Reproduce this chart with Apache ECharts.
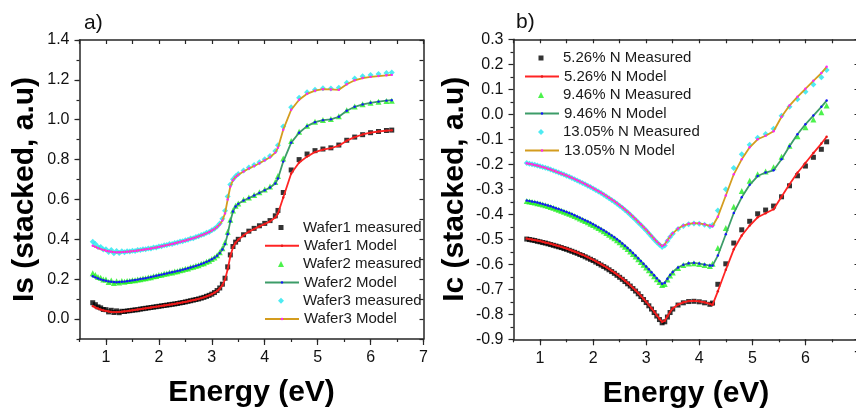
<!DOCTYPE html>
<html>
<head>
<meta charset="utf-8">
<script src="https://cdn.jsdelivr.net/npm/echarts@6/dist/echarts.min.js"></script>
<style>
  html, body { margin: 0; padding: 0; background: #fff; }
  #chart { width: 856px; height: 412px; }
</style>
</head>
<body>
<div id="chart"></div>
<script>
// Photon energy grid (eV) shared by all measured and model curves
const energy = [
  0.75, 0.80, 0.85, 0.90, 0.95, 1.00, 1.05, 1.10, 1.15, 1.20,
  1.25, 1.30, 1.35, 1.40, 1.45, 1.50, 1.55, 1.60, 1.65, 1.70,
  1.75, 1.80, 1.85, 1.90, 1.95, 2.00, 2.05, 2.10, 2.15, 2.20,
  2.25, 2.30, 2.35, 2.40, 2.45, 2.50, 2.55, 2.60, 2.65, 2.70,
  2.75, 2.80, 2.85, 2.90, 2.95, 3.00, 3.05, 3.10, 3.15, 3.20,
  3.25, 3.30, 3.35, 3.40, 3.45, 3.50, 3.60, 3.70, 3.80, 3.90,
  4.00, 4.10, 4.20, 4.25, 4.35, 4.50, 4.65, 4.80, 4.95, 5.10,
  5.25, 5.40, 5.55, 5.70, 5.85, 6.00, 6.15, 6.30, 6.40
];

// ---- Panel a) Is (stacked) ----
const wafer1Measured = [
  .082, .072, .061, .056, .048, .047, .036, .044, .033, .041,
  .032, .039, .038, .041, .042, .044, .046, .047, .050, .052,
  .054, .056, .058, .060, .062, .064, .066, .068, .070, .072,
  .074, .076, .078, .081, .083, .086, .089, .092, .095, .098,
  .101, .105, .109, .114, .119, .125, .133, .143, .156, .175,
  .205, .262, .322, .364, .386, .400, .423, .441, .455, .468,
  .480, .494, .518, .545, .635, .748, .800, .828, .845, .853,
  .859, .873, .897, .913, .925, .935, .941, .946, .948
];
const wafer1Model = [
  .065, .058, .053, .048, .044, .041, .038, .036, .035, .035,
  .036, .037, .039, .040, .042, .044, .046, .048, .050, .052,
  .054, .056, .058, .060, .062, .064, .066, .068, .070, .072,
  .074, .076, .079, .081, .084, .086, .089, .092, .095, .098,
  .101, .105, .109, .114, .119, .125, .132, .141, .153, .170,
  .198, .250, .315, .360, .383, .398, .420, .438, .452, .465,
  .477, .490, .510, .530, .610, .730, .785, .815, .838, .850,
  .857, .870, .895, .913, .926, .935, .941, .945, .947
];
const wafer2Measured = [
  .230, .221, .211, .207, .198, .199, .186, .194, .181, .190,
  .183, .191, .187, .191, .191, .195, .195, .199, .200, .204,
  .205, .209, .210, .215, .216, .221, .222, .227, .228, .233,
  .234, .239, .240, .245, .247, .252, .254, .260, .262, .268,
  .270, .277, .280, .288, .292, .301, .309, .320, .335, .355,
  .385, .438, .498, .545, .568, .580, .598, .610, .623, .636,
  .650, .665, .688, .718, .805, .893, .940, .970, .990, .999,
  1.004, 1.018, 1.047, 1.066, 1.078, 1.085, 1.090, 1.094, 1.095
];
const wafer2Model = [
  .215, .209, .204, .199, .195, .192, .189, .187, .186, .185,
  .186, .187, .188, .190, .192, .194, .196, .198, .201, .203,
  .205, .208, .211, .214, .217, .220, .223, .226, .229, .232,
  .235, .238, .241, .244, .248, .251, .255, .259, .263, .267,
  .271, .276, .281, .287, .293, .300, .308, .318, .331, .349,
  .376, .426, .490, .540, .565, .578, .595, .607, .620, .633,
  .646, .660, .680, .705, .790, .885, .935, .968, .988, .998,
  1.002, 1.015, 1.045, 1.065, 1.077, 1.085, 1.091, 1.096, 1.098
];
const wafer3Measured = [
  .388, .376, .362, .361, .349, .350, .336, .346, .330, .342,
  .331, .340, .335, .340, .339, .343, .342, .346, .346, .350,
  .350, .354, .354, .359, .359, .364, .365, .370, .371, .376,
  .377, .382, .384, .389, .391, .396, .398, .404, .406, .412,
  .415, .422, .425, .433, .437, .446, .453, .465, .480, .503,
  .543, .615, .675, .702, .717, .728, .745, .760, .773, .787,
  .802, .818, .843, .872, .966, 1.063, 1.110, 1.138, 1.151, 1.158,
  1.157, 1.160, 1.186, 1.207, 1.218, 1.225, 1.229, 1.234, 1.237
];
const wafer3Model = [
  .368, .362, .356, .351, .347, .343, .340, .338, .336, .335,
  .335, .336, .337, .338, .339, .341, .342, .344, .346, .348,
  .350, .352, .354, .357, .359, .362, .365, .368, .371, .374,
  .377, .380, .384, .387, .391, .394, .398, .402, .406, .410,
  .415, .420, .425, .431, .437, .444, .452, .462, .475, .495,
  .530, .600, .665, .697, .713, .724, .740, .755, .768, .782,
  .797, .812, .835, .860, .950, 1.050, 1.100, 1.130, 1.146, 1.153,
  1.152, 1.150, 1.178, 1.198, 1.209, 1.215, 1.219, 1.223, 1.225
];

// ---- Panel b) Ic (stacked) ----
const n526Measured = [
  -.499, -.501, -.503, -.505, -.508, -.510, -.513, -.515, -.518, -.521,
  -.524, -.527, -.530, -.533, -.537, -.540, -.544, -.548, -.552, -.556,
  -.561, -.565, -.570, -.575, -.580, -.585, -.591, -.597, -.603, -.609,
  -.615, -.622, -.629, -.636, -.644, -.652, -.660, -.669, -.678, -.687,
  -.697, -.707, -.718, -.729, -.741, -.753, -.766, -.779, -.793, -.807,
  -.821, -.834, -.830, -.811, -.793, -.779, -.763, -.754, -.749, -.748,
  -.750, -.754, -.760, -.755, -.680, -.598, -.515, -.462, -.428, -.398,
  -.383, -.367, -.330, -.286, -.246, -.207, -.172, -.140, -.110
];
const n526Model = [
  -.497, -.499, -.501, -.503, -.505, -.507, -.510, -.513, -.515, -.518,
  -.521, -.524, -.527, -.530, -.534, -.537, -.541, -.545, -.549, -.553,
  -.558, -.562, -.567, -.572, -.577, -.582, -.588, -.594, -.600, -.606,
  -.612, -.619, -.626, -.633, -.641, -.649, -.657, -.666, -.675, -.684,
  -.694, -.704, -.715, -.726, -.738, -.750, -.763, -.776, -.790, -.804,
  -.818, -.830, -.826, -.808, -.791, -.777, -.761, -.752, -.747, -.746,
  -.748, -.752, -.758, -.762, -.708, -.622, -.540, -.485, -.445, -.412,
  -.396, -.380, -.330, -.280, -.234, -.195, -.155, -.117, -.090
];
const n946Measured = [
  -.347, -.349, -.351, -.353, -.356, -.358, -.361, -.364, -.367, -.371,
  -.374, -.378, -.382, -.386, -.390, -.394, -.398, -.402, -.407, -.412,
  -.417, -.422, -.427, -.432, -.438, -.443, -.449, -.455, -.461, -.468,
  -.475, -.482, -.489, -.496, -.504, -.512, -.521, -.530, -.539, -.549,
  -.559, -.569, -.580, -.591, -.602, -.613, -.624, -.636, -.648, -.660,
  -.671, -.683, -.679, -.661, -.645, -.633, -.615, -.603, -.597, -.596,
  -.599, -.603, -.607, -.598, -.535, -.455, -.370, -.307, -.266, -.240,
  -.229, -.212, -.170, -.126, -.088, -.052, -.021, .008, .035
];
const n946Model = [
  -.345, -.347, -.349, -.351, -.353, -.356, -.359, -.362, -.365, -.368,
  -.372, -.376, -.379, -.383, -.387, -.391, -.395, -.399, -.404, -.409,
  -.414, -.419, -.424, -.429, -.434, -.440, -.446, -.452, -.458, -.464,
  -.471, -.478, -.485, -.492, -.500, -.508, -.517, -.526, -.535, -.545,
  -.555, -.565, -.576, -.587, -.598, -.609, -.620, -.632, -.644, -.656,
  -.667, -.678, -.674, -.658, -.643, -.631, -.613, -.602, -.596, -.594,
  -.597, -.601, -.605, -.605, -.565, -.480, -.395, -.332, -.282, -.247,
  -.233, -.224, -.180, -.128, -.080, -.040, -.005, .030, .055
];
const n1305Measured = [
  -.195, -.198, -.200, -.202, -.205, -.208, -.211, -.214, -.217, -.221,
  -.225, -.229, -.233, -.237, -.241, -.246, -.250, -.255, -.260, -.265,
  -.270, -.275, -.280, -.286, -.291, -.297, -.303, -.309, -.315, -.322,
  -.329, -.336, -.343, -.350, -.358, -.366, -.374, -.383, -.392, -.402,
  -.412, -.422, -.433, -.443, -.454, -.465, -.477, -.489, -.501, -.512,
  -.522, -.531, -.525, -.507, -.491, -.478, -.459, -.447, -.440, -.437,
  -.438, -.442, -.448, -.443, -.385, -.300, -.215, -.160, -.122, -.094,
  -.079, -.058, -.006, .030, .060, .090, .119, .148, .177
];
const n1305Model = [
  -.196, -.198, -.200, -.203, -.205, -.208, -.211, -.214, -.218, -.221,
  -.225, -.229, -.233, -.237, -.241, -.245, -.250, -.254, -.259, -.264,
  -.269, -.274, -.279, -.285, -.290, -.296, -.302, -.308, -.314, -.320,
  -.327, -.334, -.341, -.348, -.356, -.364, -.372, -.381, -.390, -.399,
  -.409, -.419, -.430, -.440, -.451, -.462, -.474, -.486, -.498, -.509,
  -.519, -.527, -.521, -.504, -.489, -.476, -.457, -.445, -.438, -.435,
  -.436, -.440, -.446, -.448, -.410, -.325, -.240, -.180, -.132, -.100,
  -.086, -.068, -.010, .035, .070, .102, .134, .165, .190
];

// Tick labels
const energyTicks = [1, 2, 3, 4, 5, 6, 7];
const isTicks = [0, 0.2, 0.4, 0.6, 0.8, 1.0, 1.2, 1.4];

const FONT = '"Liberation Sans", Arial, Helvetica, sans-serif';
const INK = '#111';
const FRAME = '#262626';

const toPoints = (vals) => energy.map((e, i) => [e, vals[i]]);

// Series descriptions for each panel (measured = scatter, model = line)
const panelA = [
  { name: 'Wafer1 measured', kind: 'measured', vals: wafer1Measured, symbol: 'rect', size: 5, color: '#000000' },
  { name: 'Wafer1 Model', kind: 'model', vals: wafer1Model, line: '#ff2424', dot: '#e81818' },
  { name: 'Wafer2 measured', kind: 'measured', vals: wafer2Measured, symbol: 'triangle', size: 6, color: '#1fef1f' },
  { name: 'Wafer2 Model', kind: 'model', vals: wafer2Model, line: '#3c9c68', dot: '#1414ff' },
  { name: 'Wafer3 measured', kind: 'measured', vals: wafer3Measured, symbol: 'diamond', size: 6, color: '#22e6ef' },
  { name: 'Wafer3 Model', kind: 'model', vals: wafer3Model, line: '#d49c1e', dot: '#ff22ff' }
];
const panelB = [
  { name: '5.26% N Measured', kind: 'measured', vals: n526Measured, symbol: 'rect', size: 5, color: '#000000' },
  { name: '5.26% N Model', kind: 'model', vals: n526Model, line: '#ff2424', dot: '#e81818' },
  { name: '9.46% N Measured', kind: 'measured', vals: n946Measured, symbol: 'triangle', size: 6, color: '#1fef1f' },
  { name: '9.46% N Model', kind: 'model', vals: n946Model, line: '#3c9c68', dot: '#1414ff' },
  { name: '13.05% N Measured', kind: 'measured', vals: n1305Measured, symbol: 'diamond', size: 6, color: '#22e6ef' },
  { name: '13.05% N Model', kind: 'model', vals: n1305Model, line: '#d49c1e', dot: '#ff22ff' }
];

function buildSeries(items, xIdx, yIdx) {
  const measured = items.filter(s => s.kind === 'measured').map(s => ({
    type: 'scatter', name: s.name, xAxisIndex: xIdx, yAxisIndex: yIdx,
    data: toPoints(s.vals), symbol: s.symbol, symbolSize: s.size, symbolKeepAspect: true,
    itemStyle: { color: s.color }, z: 2, silent: true
  }));
  const models = items.filter(s => s.kind === 'model').map(s => ({
    type: 'line', name: s.name, xAxisIndex: xIdx, yAxisIndex: yIdx,
    data: toPoints(s.vals), symbol: 'circle', symbolSize: 2.4, showSymbol: true,
    itemStyle: { color: s.dot }, lineStyle: { color: s.line, width: 1.8 },
    z: 3, silent: true
  }));
  return measured.concat(models);
}

// One legend per row so each marker keeps its own size;
// marker rows are centred on the line icons of the model rows.
const LINE_ICON = 34;
function buildLegends(items, left, firstTop, step) {
  return items.map((s, i) => {
    const measured = s.kind === 'measured';
    const shift = measured ? (LINE_ICON - s.size) / 2 : 0;
    return {
      data: [{ name: s.name, icon: measured ? s.symbol : undefined }],
      left: left + shift,
      top: firstTop + i * step, orient: 'vertical',
      padding: 0, itemGap: 0,
      itemWidth: measured ? s.size : LINE_ICON,
      itemHeight: measured ? s.size : 3,
      symbolKeepAspect: true,
      selectedMode: false,
      textStyle: {
        fontSize: 15, color: '#1a1a1a', fontFamily: FONT,
        padding: [0, 0, 0, shift]
      }
    };
  });
}

const frameLine = { show: true, onZero: false, lineStyle: { color: FRAME, width: 1.5 } };
const hiddenLine = { show: false, onZero: false };
const tickLine = { color: FRAME, width: 1.2 };
const labelStyle = { fontSize: 16, color: INK, fontFamily: FONT };
const titleStyle = { fontSize: 30, fontWeight: 'bold', color: '#000', fontFamily: FONT };
const fmt1 = v => (Math.abs(v) < 1e-9 ? 0 : v).toFixed(1);

function energyAxes(grid) {
  return [
    { // bottom: labels and half-unit ticks
      gridIndex: grid, type: 'value', position: 'bottom', min: 0.5, max: 7, interval: 0.5,
      axisLine: frameLine,
      axisTick: { show: true, inside: false, length: 3, lineStyle: tickLine },
      axisLabel: Object.assign({ customValues: energyTicks, margin: 11, formatter: v => String(Math.round(v)) }, labelStyle),
      splitLine: { show: false },
      name: 'Energy (eV)', nameLocation: 'middle', nameGap: 39, nameMoveOverlap: false,
      nameTextStyle: titleStyle
    },
    { // bottom: whole-unit ticks
      gridIndex: grid, type: 'value', position: 'bottom', min: 0.5, max: 7,
      axisLine: hiddenLine,
      axisTick: { show: true, inside: false, length: 6, customValues: energyTicks, lineStyle: tickLine },
      axisLabel: { show: false }, splitLine: { show: false }
    },
    { // top frame
      gridIndex: grid, type: 'value', position: 'top', min: 0.5, max: 7, interval: 0.5,
      axisLine: frameLine,
      axisTick: { show: true, inside: true, length: 4, lineStyle: tickLine },
      axisLabel: { show: false }, splitLine: { show: false }
    }
  ];
}

const option = {
  animation: false,
  backgroundColor: '#ffffff',
  title: [
    { text: 'a)', left: 84, top: 13, padding: 0, textStyle: { fontSize: 21, fontWeight: 'normal', color: INK, fontFamily: FONT } },
    { text: 'b)', left: 516, top: 12, padding: 0, textStyle: { fontSize: 21, fontWeight: 'normal', color: INK, fontFamily: FONT } }
  ],
  grid: [
    { left: 79.5, top: 40, width: 344, height: 299, outerBoundsMode: 'none' },
    { left: 513.5, top: 39.3, width: 345, height: 300, outerBoundsMode: 'none' }
  ],
  xAxis: energyAxes(0).concat(energyAxes(1)),
  yAxis: [
    { // panel a left: labels and minor ticks
      gridIndex: 0, type: 'value', position: 'left', min: -0.1, max: 1.4, interval: 0.1,
      axisLine: frameLine,
      axisTick: { show: true, inside: false, length: 3, lineStyle: tickLine },
      axisLabel: Object.assign({ customValues: isTicks, margin: 10, formatter: fmt1 }, labelStyle),
      splitLine: { show: false },
      name: 'Is (stacked, a.u)', nameLocation: 'middle', nameRotate: 90, nameGap: 40, nameMoveOverlap: false,
      nameTextStyle: titleStyle
    },
    { // panel a left: major ticks
      gridIndex: 0, type: 'value', position: 'left', min: -0.1, max: 1.4,
      axisLine: hiddenLine,
      axisTick: { show: true, inside: false, length: 5, customValues: isTicks, lineStyle: tickLine },
      axisLabel: { show: false }, splitLine: { show: false }
    },
    { // panel a right frame
      gridIndex: 0, type: 'value', position: 'right', min: -0.1, max: 1.4, interval: 0.1,
      axisLine: frameLine,
      axisTick: { show: true, inside: true, length: 4, lineStyle: tickLine },
      axisLabel: { show: false }, splitLine: { show: false }
    },
    { // panel b left
      gridIndex: 1, type: 'value', position: 'left', min: -0.9, max: 0.3, interval: 0.1,
      axisLine: frameLine,
      axisTick: { show: true, inside: false, length: 5, lineStyle: tickLine },
      minorTick: { show: true, splitNumber: 2, length: 3, lineStyle: tickLine },
      axisLabel: Object.assign({ margin: 10, formatter: fmt1 }, labelStyle),
      splitLine: { show: false },
      name: 'Ic (stacked, a.u)', nameLocation: 'middle', nameRotate: 90, nameGap: 44, nameMoveOverlap: false,
      nameTextStyle: titleStyle
    },
    { // panel b right frame
      gridIndex: 1, type: 'value', position: 'right', min: -0.9, max: 0.3, interval: 0.1,
      axisLine: frameLine,
      axisTick: { show: true, inside: true, length: 4, lineStyle: tickLine },
      axisLabel: { show: false }, splitLine: { show: false }
    }
  ],
  legend: buildLegends(panelA, 264, 220, 18.3).concat(buildLegends(panelB, 524, 50.5, 18.5)),
  series: buildSeries(panelA, 0, 0).concat(buildSeries(panelB, 3, 3))
};

const chart = echarts.init(document.getElementById('chart'), null, { renderer: 'canvas' });
chart.setOption(option);
</script>
</body>
</html>
